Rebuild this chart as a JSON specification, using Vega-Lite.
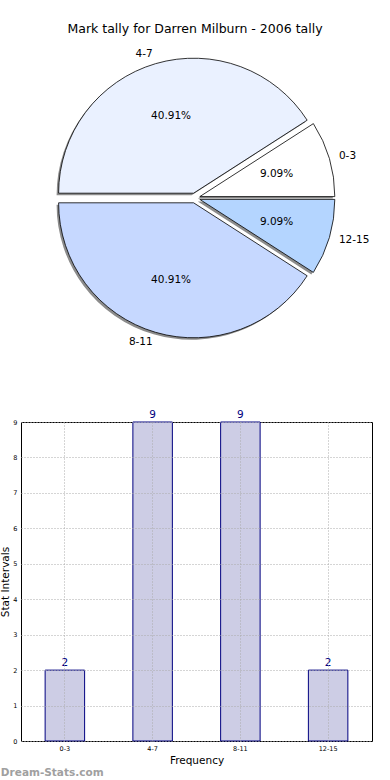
{
  "$schema": "https://vega.github.io/schema/vega-lite/v6.json",
  "padding": {"top": 22, "left": 0, "right": 0, "bottom": 0},
  "spacing": 53,
  "background": "white",
  "data": {"values": [
    {"range": "0-3", "count": 2, "idx": 1, "pct": "9.09%"},
    {"range": "4-7", "count": 9, "idx": 2, "pct": "40.91%"},
    {"range": "8-11", "count": 9, "idx": 3, "pct": "40.91%"},
    {"range": "12-15", "count": 2, "idx": 4, "pct": "9.09%"}
  ]},
  "config": {"font": "DejaVu Sans", "view": {"stroke": "black", "strokeWidth": 1}},
  "vconcat": [
    {
      "width": 348,
      "height": 316,
      "view": {"stroke": null},
      "title": {"text": "Mark tally for Darren Milburn - 2006 tally", "fontSize": 12.5, "fontWeight": "normal", "anchor": "middle", "offset": 5, "color": "black"},
      "transform": [{"stack": "count", "groupby": [], "sort": [{"field": "idx", "order": "descending"}], "as": ["t0", "t1"]}],
      "layer": [
        {"transform": [{"filter": "datum.idx == 1"}], "mark": {"type": "arc", "radius": 135, "xOffset": 2.8, "yOffset": 0.6, "fill": "#8c8c8c"},
         "encoding": {"theta": {"field": "t0", "type": "quantitative", "scale": {"domain": [0, 22], "range": [1.5708, 7.854]}}, "theta2": {"field": "t1"}}},
        {"transform": [{"filter": "datum.idx == 2"}], "mark": {"type": "arc", "radius": 135, "xOffset": -3.4, "yOffset": -2.8, "fill": "#8c8c8c"},
         "encoding": {"theta": {"field": "t0", "type": "quantitative", "scale": {"domain": [0, 22], "range": [1.5708, 7.854]}}, "theta2": {"field": "t1"}}},
        {"transform": [{"filter": "datum.idx == 3"}], "mark": {"type": "arc", "radius": 135, "xOffset": -3.4, "yOffset": 6.8, "fill": "#8c8c8c"},
         "encoding": {"theta": {"field": "t0", "type": "quantitative", "scale": {"domain": [0, 22], "range": [1.5708, 7.854]}}, "theta2": {"field": "t1"}}},
        {"transform": [{"filter": "datum.idx == 4"}], "mark": {"type": "arc", "radius": 135, "xOffset": 2.8, "yOffset": 3.4, "fill": "#8c8c8c"},
         "encoding": {"theta": {"field": "t0", "type": "quantitative", "scale": {"domain": [0, 22], "range": [1.5708, 7.854]}}, "theta2": {"field": "t1"}}},
        {"transform": [{"filter": "datum.idx == 1"}], "mark": {"type": "arc", "radius": 135, "xOffset": 4.8, "yOffset": -1.4, "fill": "#ffffff", "stroke": "black", "strokeWidth": 0.8},
         "encoding": {"theta": {"field": "t0", "type": "quantitative", "scale": {"domain": [0, 22], "range": [1.5708, 7.854]}}, "theta2": {"field": "t1"}}},
        {"transform": [{"filter": "datum.idx == 2"}], "mark": {"type": "arc", "radius": 135, "xOffset": -1.4, "yOffset": -4.8, "fill": "#eaf1ff", "stroke": "black", "strokeWidth": 0.8},
         "encoding": {"theta": {"field": "t0", "type": "quantitative", "scale": {"domain": [0, 22], "range": [1.5708, 7.854]}}, "theta2": {"field": "t1"}}},
        {"transform": [{"filter": "datum.idx == 3"}], "mark": {"type": "arc", "radius": 135, "xOffset": -1.4, "yOffset": 4.8, "fill": "#c6d8ff", "stroke": "black", "strokeWidth": 0.8},
         "encoding": {"theta": {"field": "t0", "type": "quantitative", "scale": {"domain": [0, 22], "range": [1.5708, 7.854]}}, "theta2": {"field": "t1"}}},
        {"transform": [{"filter": "datum.idx == 4"}], "mark": {"type": "arc", "radius": 135, "xOffset": 4.8, "yOffset": 1.4, "fill": "#b4d5ff", "stroke": "black", "strokeWidth": 0.8},
         "encoding": {"theta": {"field": "t0", "type": "quantitative", "scale": {"domain": [0, 22], "range": [1.5708, 7.854]}}, "theta2": {"field": "t1"}}},
        {"mark": {"type": "text", "radius": 85, "fontSize": 10.5, "color": "black"},
         "encoding": {"theta": {"field": "count", "type": "quantitative", "stack": true}, "order": {"field": "idx", "sort": "descending"}, "text": {"field": "pct"}}},
        {"mark": {"type": "text", "radius": 150, "fontSize": 10.5, "color": "black", "baseline": "middle", "align": {"expr": "datum.idx == 1 || datum.idx == 4 ? 'left' : 'right'"}},
         "encoding": {"theta": {"field": "count", "type": "quantitative", "stack": true}, "order": {"field": "idx", "sort": "descending"}, "text": {"field": "range"}}}
      ]
    },
    {
      "width": 351,
      "height": 319,
      "title": {"text": "Dream-Stats.com", "orient": "bottom", "anchor": "start", "frame": "bounds", "fontSize": 10.5, "fontWeight": "bold", "color": "#a0a0a0", "offset": 2},
      "encoding": {
        "x": {"field": "range", "type": "nominal", "sort": ["0-3", "4-7", "8-11", "12-15"], "scale": {"paddingInner": 0, "paddingOuter": 0},
              "axis": {"title": "Frequency", "labelAngle": 0, "labelFontSize": 6.5, "titleFontSize": 10.5, "titleFontWeight": "normal", "ticks": false, "domain": false, "grid": true, "bandPosition": 0.5, "gridColor": "#aaaaaa", "gridDash": [1, 2], "gridOpacity": 1, "labelPadding": 4, "titlePadding": 4, "zindex": 1, "labelColor": "black", "titleColor": "black"}},
        "y": {"field": "count", "type": "quantitative", "scale": {"domain": [0, 9], "nice": false},
              "axis": {"title": "Stat Intervals", "values": [0, 1, 2, 3, 4, 5, 6, 7, 8, 9], "labelFontSize": 6.5, "titleFontSize": 10.5, "titleFontWeight": "normal", "ticks": false, "domain": false, "grid": true, "gridColor": "#aaaaaa", "gridDash": [1, 2], "gridOpacity": 1, "labelPadding": 4, "titlePadding": 2, "zindex": 1, "labelColor": "black", "titleColor": "black"}}
      },
      "layer": [
        {"mark": {"type": "bar", "width": {"band": 0.45}, "fill": "#cdcde5", "stroke": "#000080", "strokeWidth": 1}},
        {"mark": {"type": "text", "dy": -4, "baseline": "alphabetic", "fontSize": 10.5, "color": "#000080"}, "encoding": {"text": {"field": "count"}}}
      ]
    }
  ]
}
